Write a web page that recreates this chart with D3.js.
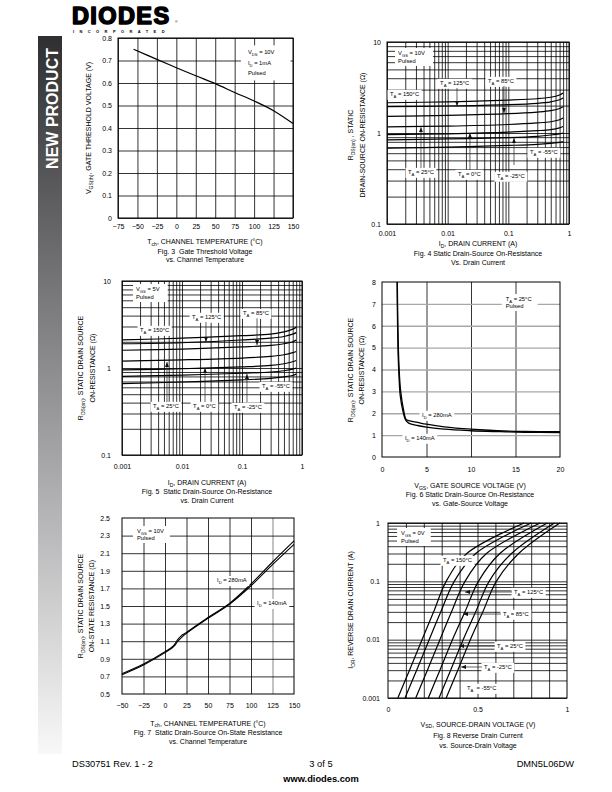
<!DOCTYPE html>
<html>
<head>
<meta charset="utf-8">
<title>DMN5L06DW typical characteristics</title>
<script src="https://cdn.jsdelivr.net/npm/d3@7"></script>
<style>
  html, body { margin: 0; padding: 0; background: #fff; }
  svg { display: block; }
  text { font-family: "Liberation Sans", Arial, Helvetica, sans-serif; fill: #000; }
</style>
</head>
<body>
<div id="page"></div>
<script>
// ---------------- data ----------------
// Fig 3: gate threshold voltage vs channel temperature
const fig3Temp = [-55, -25, 0, 25, 50, 75, 100, 125, 150];
const fig3Vth = [0.75, 0.705, 0.668, 0.632, 0.597, 0.558, 0.52, 0.477, 0.42];

// Fig 4 / Fig 5: Rds(on) vs drain current, one row per ambient temperature
const ambientTemps = ['150', '125', '85', '25', '0', '-25', '-55'];
const drainCurrent = [0.001, 0.01, 0.1, 0.3, 0.5, 0.7, 0.8];
const fig4Rds = [
  [2.15, 2.2, 2.3, 2.38, 2.47, 2.62, 2.75],
  [1.95, 1.98, 2.05, 2.12, 2.2, 2.32, 2.42],
  [1.52, 1.56, 1.63, 1.7, 1.76, 1.86, 1.94],
  [1.17, 1.19, 1.24, 1.29, 1.33, 1.4, 1.46],
  [0.96, 0.98, 1.02, 1.06, 1.09, 1.14, 1.18],
  [0.84, 0.86, 0.89, 0.92, 0.95, 0.98, 1.0],
  [0.68, 0.7, 0.73, 0.75, 0.77, 0.79, 0.8]
];
const fig5Rds = [
  [2.1, 2.2, 2.35, 2.45, 2.6, 2.8, 2.95],
  [1.9, 1.95, 2.1, 2.2, 2.3, 2.45, 2.55],
  [1.6, 1.65, 1.75, 1.82, 1.9, 2.0, 2.1],
  [1.2, 1.24, 1.3, 1.36, 1.42, 1.5, 1.55],
  [0.95, 0.98, 1.03, 1.07, 1.12, 1.18, 1.22],
  [0.8, 0.83, 0.87, 0.9, 0.93, 0.97, 1.0],
  [0.66, 0.69, 0.73, 0.76, 0.79, 0.82, 0.85]
];

// Fig 6: Rds(on) vs gate-source voltage
const fig6Vgs280 = [1.72, 1.78, 1.85, 1.95, 2.1, 2.4, 2.7, 3.0, 4, 5, 7, 10, 13, 16, 20];
const fig6Rds280 = [8, 6, 4.8, 3.8, 3.0, 2.2, 1.72, 1.66, 1.58, 1.5, 1.38, 1.27, 1.2, 1.17, 1.16];
const fig6Vgs140 = [1.7, 1.75, 1.82, 1.92, 2.05, 2.35, 2.65, 3.0, 4, 5, 7, 10, 13, 16, 20];
const fig6Rds140 = [8, 6, 4.6, 3.6, 2.8, 2.1, 1.7, 1.55, 1.44, 1.37, 1.27, 1.2, 1.16, 1.13, 1.12];

// Fig 7: Rds(on) vs channel temperature
const fig7Temp = [-50, -25, 0, 10, 15, 20, 25, 50, 75, 100, 125, 150];
const fig7Rds280 = [0.73, 0.84, 0.98, 1.05, 1.12, 1.17, 1.2, 1.37, 1.53, 1.75, 2.0, 2.24];
const fig7Rds140 = [0.72, 0.83, 0.97, 1.04, 1.1, 1.15, 1.19, 1.36, 1.52, 1.73, 1.97, 2.2];

// Fig 8: reverse drain current vs source-drain voltage
const fig8Temps = ['150', '125', '85', '25', '-25', '-55'];
const fig8Current = [0.001, 0.003, 0.01, 0.03, 0.1, 0.3, 1];
const fig8Vsd = [
  [0.055, 0.12, 0.19, 0.255, 0.325, 0.44, 0.76],
  [0.095, 0.16, 0.23, 0.295, 0.37, 0.49, 0.80],
  [0.155, 0.22, 0.29, 0.355, 0.43, 0.55, 0.85],
  [0.225, 0.29, 0.36, 0.43, 0.505, 0.625, 0.89],
  [0.285, 0.35, 0.42, 0.49, 0.565, 0.69, 0.93],
  [0.325, 0.39, 0.46, 0.53, 0.605, 0.73, 0.96]
];

// tick labels
const fig3XTicks = [-75, -50, -25, 0, 25, 50, 75, 100, 125, 150];
const fig3YTicks = [0, 0.1, 0.2, 0.3, 0.4, 0.5, 0.6, 0.7, 0.8];
const currentTicks = [0.001, 0.01, 0.1, 1];
const rdsLogTicks = [0.1, 1, 10];
const fig6XTicks = [0, 5, 10, 15, 20];
const fig6YTicks = [0, 1, 2, 3, 4, 5, 6, 7, 8];
const fig7XTicks = [-50, -25, 0, 25, 50, 75, 100, 125, 150];
const fig7YTicks = [0.5, 0.7, 0.9, 1.1, 1.3, 1.5, 1.7, 1.9, 2.1, 2.3, 2.5];
const fig8XTicks = [0, 0.5, 1];
const fig8YTicks = [0.001, 0.01, 0.1, 1];

// ---------------- helpers ----------------
const svg = d3.select('#page').append('svg').attr('width', 612).attr('height', 792);

const defs = svg.append('defs');
defs.append('marker').attr('id', 'head').attr('markerUnits', 'userSpaceOnUse')
  .attr('markerWidth', 5).attr('markerHeight', 4).attr('refX', 5).attr('refY', 2)
  .attr('orient', 'auto')
  .append('path').attr('d', 'M0,0L5,2L0,4Z').attr('fill', '#111');

const side = defs.append('linearGradient').attr('id', 'side')
  .attr('x1', 0).attr('y1', 0).attr('x2', 0).attr('y2', 1);
side.append('stop').attr('offset', '0%').attr('stop-color', '#2f2f31');
side.append('stop').attr('offset', '36%').attr('stop-color', '#78787b');
side.append('stop').attr('offset', '68%').attr('stop-color', '#b7b7b9');
side.append('stop').attr('offset', '100%').attr('stop-color', '#f8f8f8');

// text with _{sub} markup
function rich(text, str, size) {
  const parts = str.split(/(_\{[^}]*\})/).filter(p => p.length);
  let shifted = false;
  parts.forEach(p => {
    if (p.startsWith('_{')) {
      text.append('tspan').attr('font-size', size * 0.72).attr('dy', size * 0.28).text(p.slice(2, -1));
      shifted = true;
    } else {
      const t = text.append('tspan').text(p);
      if (shifted) { t.attr('dy', -size * 0.28); shifted = false; }
    }
  });
  return text;
}

function logGrid(lo, hi) {
  const v = [];
  for (let d = lo; d < hi * 0.999; d *= 10) {
    for (let k = 1; k < 10; k++) v.push(k * d);
  }
  v.push(hi);
  return v;
}

function grid(g, x, y, xv, yv, style = {}) {
  const [yb, yt] = y.range();
  const [xl, xr] = x.range();
  const gx = g.append('g').attr('transform', `translate(0,${yb})`)
    .call(d3.axisBottom(x).tickValues(xv).tickSize(yt - yb).tickFormat(''));
  gx.select('.domain').remove();
  gx.selectAll('.tick line')
    .attr('stroke', d => (style.xColor ? style.xColor(d) : '#000'))
    .attr('stroke-width', d => (style.xWidth ? style.xWidth(d) : 0.8));
  const gy = g.append('g').attr('transform', `translate(${xl},0)`)
    .call(d3.axisLeft(y).tickValues(yv).tickSize(xl - xr).tickFormat(''));
  gy.select('.domain').remove();
  gy.selectAll('.tick line')
    .attr('stroke', d => (style.yColor ? style.yColor(d) : '#000'))
    .attr('stroke-width', d => (style.yWidth ? style.yWidth(d) : 0.8));
  g.append('rect').attr('x', xl).attr('y', yt).attr('width', xr - xl).attr('height', yb - yt)
    .attr('fill', 'none').attr('stroke', '#000').attr('stroke-width', 1);
}

function tickLabels(g, x, y, xv, xf, yv, yf, xpad, ypad) {
  const gx = g.append('g').attr('transform', `translate(0,${y.range()[0]})`)
    .call(d3.axisBottom(x).tickValues(xv).tickFormat(xf).tickSize(0).tickPadding(xpad));
  gx.select('.domain').remove();
  gx.attr('font-size', 7);
  const gy = g.append('g').attr('transform', `translate(${x.range()[0]},0)`)
    .call(d3.axisLeft(y).tickValues(yv).tickFormat(yf).tickSize(0).tickPadding(ypad));
  gy.select('.domain').remove();
  gy.attr('font-size', 7);
}

function curve(g, x, y, xs, ys, width = 1.2) {
  const pts = xs.map((v, i) => [v, ys[i]]);
  g.append('path').datum(pts)
    .attr('d', d3.line().x(d => x(d[0])).y(d => y(d[1])).curve(d3.curveCatmullRom.alpha(0.5)))
    .attr('fill', 'none').attr('stroke', '#000').attr('stroke-width', width);
}

// small annotation on a white box
function note(g, px, py, lines, o = {}) {
  const size = o.size || 5.8, lh = o.lh || 7.5;
  const pad = o.pad || [2.5, 1.2, 2.5, 1.2];
  const grp = g.append('g');
  lines.forEach((s, i) => {
    const t = grp.append('text').attr('x', px).attr('y', py + i * lh)
      .attr('font-size', size).attr('xml:space', 'preserve');
    rich(t, s, size);
  });
  const bb = grp.node().getBBox();
  grp.insert('rect', ':first-child')
    .attr('x', bb.x - pad[0]).attr('y', bb.y - pad[1])
    .attr('width', bb.width + pad[0] + pad[2]).attr('height', bb.height + pad[1] + pad[3])
    .attr('fill', '#fff');
}

function arrow(g, x1, y1, x2, y2) {
  g.append('line').attr('x1', x1).attr('y1', y1).attr('x2', x2).attr('y2', y2)
    .attr('stroke', '#222').attr('stroke-width', 0.7).attr('marker-end', 'url(#head)');
}

function yTitle(cy, lines, baselines) {
  lines.forEach((s, i) => {
    const t = svg.append('text')
      .attr('transform', `translate(${baselines[i]},${cy}) rotate(-90)`)
      .attr('text-anchor', 'middle').attr('font-size', 7);
    rich(t, s, 7);
  });
}

function captions(cx, lines, baselines) {
  lines.forEach((s, i) => {
    const t = svg.append('text').attr('x', cx).attr('y', baselines[i])
      .attr('text-anchor', 'middle').attr('font-size', 7).attr('xml:space', 'preserve');
    rich(t, s, 7);
  });
}

const fmt1 = d => (d === 0 ? '0' : d.toFixed(1));
const fmtG = d3.format('~g');

// ---------------- page furniture ----------------
svg.append('rect').attr('x', 38).attr('y', 36).attr('width', 24).attr('height', 718)
  .attr('fill', 'url(#side)');
svg.append('text').attr('transform', 'translate(57.5,48) rotate(-90)')
  .attr('text-anchor', 'end').attr('font-size', 16).attr('font-weight', 'bold')
  .style('fill', '#fff').text('NEW PRODUCT');

// logo
svg.append('text').attr('x', 72).attr('y', 24).attr('font-size', 23.5).attr('font-weight', 'bold')
  .attr('letter-spacing', 1.4).attr('stroke', '#000').attr('stroke-width', 1.6)
  .attr('stroke-linejoin', 'round').text('DIODES');
svg.append('text').attr('x', 175).attr('y', 23).attr('font-size', 3.5).text('®');
svg.append('text').attr('x', 73).attr('y', 32.8).attr('font-size', 4).attr('font-weight', 'bold')
  .attr('letter-spacing', 5.4).text('INCORPORATED');

svg.append('text').attr('x', 72).attr('y', 766.5).attr('font-size', 9.3).text('DS30751 Rev. 1 - 2');
svg.append('text').attr('x', 321).attr('y', 766.5).attr('font-size', 9.3)
  .attr('text-anchor', 'middle').text('3 of 5');
svg.append('text').attr('x', 574).attr('y', 766.5).attr('font-size', 9.3)
  .attr('text-anchor', 'end').text('DMN5L06DW');
svg.append('text').attr('x', 321).attr('y', 781.5).attr('font-size', 9.3).attr('font-weight', 'bold')
  .attr('text-anchor', 'middle').text('www.diodes.com');

// ---------------- Fig 3 ----------------
{
  const x = d3.scaleLinear([-75, 150], [118, 293]);
  const y = d3.scaleLinear([0, 0.8], [218, 38]);
  const g = svg.append('g');
  grid(g, x, y, fig3XTicks, fig3YTicks);
  curve(g, x, y, fig3Temp, fig3Vth, 1.2);
  note(g, x(92), y(0.727), ['V_{DS} = 10V', 'I_{D} = 1mA', 'Pulsed'], { lh: 10.5, pad: [7, 4, 16, 4] });
  tickLabels(g, x, y, fig3XTicks, fmtG, fig3YTicks, fmt1, 6.5, 6);
  yTitle(128, ['V_{GS(th)}, GATE THRESHOLD VOLTAGE (V)'], [91]);
  captions(205, ['T_{ch}, CHANNEL TEMPERATURE (°C)', 'Fig. 3  Gate Threshold Voltage', 'vs. Channel Temperature'],
    [244.2, 253.5, 261.8]);
}

// ---------------- Fig 4 / Fig 5 ----------------
function rdsVsCurrent(o) {
  const x = d3.scaleLog([0.001, 1], o.xr);
  const y = d3.scaleLog([0.1, 10], o.yr);
  const g = svg.append('g');
  grid(g, x, y, logGrid(0.001, 1), logGrid(0.1, 10));
  o.rds.forEach(row => curve(g, x, y, drainCurrent, row, 1.2));
  note(g, x(o.legend[0]), y(o.legend[1]), o.legendText, { lh: 8, pad: [3, 2, 8, 2] });
  o.labels.forEach(l => {
    note(g, x(l.at[0]), y(l.at[1]), ['T_{A} = ' + l.t + '°C']);
    if (l.arrow) arrow(g, x(l.arrow[0]), y(l.arrow[1]), x(l.arrow[0]), y(l.arrow[2]));
  });
  tickLabels(g, x, y, currentTicks, fmtG, rdsLogTicks, fmtG, o.xpad, o.ypad);
  return g;
}

rdsVsCurrent({
  xr: [387, 569], yr: [224, 42], rds: fig4Rds, xpad: 6.8, ypad: 6,
  legend: [0.00152, 7.2], legendText: ['V_{GS} = 10V', 'Pulsed'],
  labels: [
    { t: ambientTemps[0], at: [0.00112, 2.55] },
    { t: ambientTemps[1], at: [0.0075, 3.37], arrow: [0.01425, 3.12, 1.98] },
    { t: ambientTemps[2], at: [0.0462, 3.54], arrow: [0.0848, 3.29, 1.66] },
    { t: ambientTemps[3], at: [0.00222, 0.354], arrow: [0.00363, 0.412, 1.16] },
    { t: ambientTemps[4], at: [0.0148, 0.337], arrow: [0.0233, 0.392, 1.0] },
    { t: ambientTemps[5], at: [0.065, 0.32], arrow: [0.124, 0.445, 0.88] },
    { t: ambientTemps[6], at: [0.2275, 0.588] }
  ]
});
yTitle(135, ['R_{DS(on)} , STATIC', 'DRAIN-SOURCE ON-RESISTANCE (Ω)'], [353, 365]);
captions(478, ['I_{D}, DRAIN CURRENT (A)', 'Fig. 4 Static Drain-Source On-Resistance', 'Vs. Drain Current'],
  [245.8, 255.8, 264.8]);

rdsVsCurrent({
  xr: [122, 302], yr: [455, 281], rds: fig5Rds, xpad: 9.2, ypad: 11,
  legend: [0.00171, 7.67], legendText: ['V_{GS} = 5V', 'Pulsed'],
  labels: [
    { t: ambientTemps[0], at: [0.002, 2.59] },
    { t: ambientTemps[1], at: [0.0147, 3.66], arrow: [0.0251, 3.38, 1.99] },
    { t: ambientTemps[2], at: [0.104, 4.06], arrow: [0.178, 3.73, 1.84] },
    { t: ambientTemps[3], at: [0.00329, 0.347], arrow: [0.00562, 0.406, 1.17] },
    { t: ambientTemps[4], at: [0.0153, 0.347], arrow: [0.0242, 0.406, 1.0] },
    { t: ambientTemps[5], at: [0.0736, 0.338], arrow: [0.121, 0.406, 0.853] },
    { t: ambientTemps[6], at: [0.2156, 0.589] }
  ]
});
yTitle(368, ['R_{DS(on)}, STATIC DRAIN SOURCE', 'ON-RESISTANCE (Ω)'], [83, 95]);
captions(207, ['I_{D}, DRAIN CURRENT (A)', 'Fig. 5  Static Drain-Source On-Resistance', 'vs. Drain Current'],
  [485.2, 494.2, 502.5]);

// ---------------- Fig 6 ----------------
{
  const x = d3.scaleLinear([0, 20], [382, 560]);
  const y = d3.scaleLinear([0, 8], [457, 282]);
  const g = svg.append('g');
  grid(g, x, y, [5, 10, 15], [1, 2, 3, 4, 5, 6, 7],
    { yColor: () => '#a8a8a8', yWidth: () => 1.4 });
  curve(g, x, y, fig6Vgs280, fig6Rds280, 1.3);
  curve(g, x, y, fig6Vgs140, fig6Rds140, 1.3);
  note(g, x(13.9), y(7.13), ['T_{A} = 25°C', 'Pulsed'], { lh: 7, pad: [4, 2, 6, 2] });
  note(g, x(4.5), y(1.83), ['I_{D} = 280mA']);
  note(g, x(2.58), y(0.78), ['I_{D} = 140mA']);
  tickLabels(g, x, y, fig6XTicks, fmtG, fig6YTicks, fmtG, 10, 6);
  yTitle(370, ['R_{DS(on)}, STATIC DRAIN SOURCE', 'ON-RESISTANCE (Ω)'], [353, 364]);
  captions(470, ['V_{GS}, GATE SOURCE VOLTAGE (V)', 'Fig. 6 Static Drain-Source On-Resistance', 'vs. Gate-Source Voltage'],
    [488, 497, 506]);
}

// ---------------- Fig 7 ----------------
{
  const x = d3.scaleLinear([-50, 150], [122, 294]);
  const y = d3.scaleLinear([0.5, 2.5], [694, 518]);
  const g = svg.append('g');
  grid(g, x, y, [-25, 0, 25, 50, 75, 100, 125], [0.7, 0.9, 1.1, 1.3, 1.5, 1.7, 1.9, 2.1, 2.3],
    { xColor: d => (d === 125 ? '#a8a8a8' : '#000'), xWidth: d => (d === 125 ? 1.4 : 0.8) });
  curve(g, x, y, fig7Temp, fig7Rds280, 1.1);
  curve(g, x, y, fig7Temp, fig7Rds140, 1.1);
  note(g, x(-32.6), y(2.33), ['V_{GS} = 10V', 'Pulsed'], { lh: 7, pad: [4, 2, 6, 2] });
  note(g, x(60.5), y(1.77), ['I_{D} = 280mA']);
  note(g, x(107), y(1.51), ['I_{D} = 140mA']);
  tickLabels(g, x, y, fig7XTicks, fmtG, fig7YTicks, d => d.toFixed(1), 9.5, 12);
  yTitle(606, ['R_{DS(on)}, STATIC DRAIN SOURCE', 'ON-STATE RESISTANCE (Ω)'], [83, 94]);
  captions(208, ['T_{ch}, CHANNEL TEMPERATURE (°C)', 'Fig. 7  Static Drain-Source On-State Resistance', 'vs. Channel Temperature'],
    [725.5, 734.5, 743.5]);
}

// ---------------- Fig 8 ----------------
{
  const x = d3.scaleLinear([0, 1], [388, 567]);
  const y = d3.scaleLog([0.001, 1], [698, 523]);
  const g = svg.append('g');
  grid(g, x, y, d3.range(1, 10).map(k => k / 10), logGrid(0.001, 1));
  fig8Vsd.forEach(row => curve(g, x, y, row, fig8Current, 1.2));
  note(g, x(0.073), y(0.622), ['V_{GS} = 0V', 'Pulsed'], { lh: 8, pad: [4, 2, 6, 2] });
  const labels = [
    { t: fig8Temps[0], at: [0.307, 0.2145] },
    { t: fig8Temps[1], at: [0.704, 0.0607], arrow: [0.693, 0.43, 0.0656] },
    { t: fig8Temps[2], at: [0.642, 0.0255], arrow: [0.631, 0.419, 0.0275] },
    { t: fig8Temps[3], at: [0.609, 0.0072], arrow: [0.598, 0.397, 0.0078] },
    { t: fig8Temps[4], at: [0.536, 0.00314], arrow: [0.525, 0.408, 0.0034] },
    { t: fig8Temps[5], at: [0.441, 0.00137], gap: true }
  ];
  labels.forEach(l => {
    note(g, x(l.at[0]), y(l.at[1]), [(l.gap ? 'T_{A}  = ' : 'T_{A} = ') + l.t + '°C']);
    if (l.arrow) arrow(g, x(l.arrow[0]), y(l.arrow[2]), x(l.arrow[1]), y(l.arrow[2]));
  });
  tickLabels(g, x, y, fig8XTicks, fmtG, fig8YTicks, fmtG, 9, 8);
  yTitle(610, ['I_{DR}, REVERSE DRAIN CURRENT (A)'], [353]);
  captions(478, ['V_{SD}, SOURCE-DRAIN VOLTAGE (V)', 'Fig. 8 Reverse Drain Current', 'vs. Source-Drain Voltage'],
    [726.5, 737.5, 747.5]);
}
</script>
</body>
</html>
